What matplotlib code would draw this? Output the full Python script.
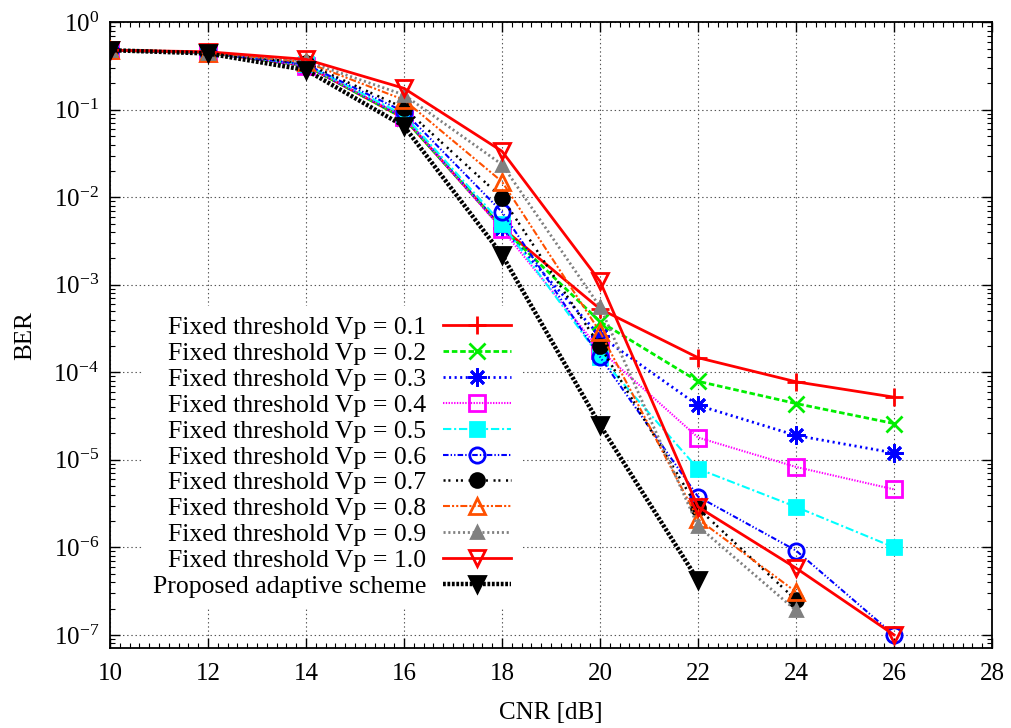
import numpy as np
import matplotlib
matplotlib.use('Agg')
import matplotlib.pyplot as plt

plt.rcParams['font.family'] = ['Liberation Serif', 'DejaVu Serif']
plt.rcParams['mathtext.fontset'] = 'custom'
plt.rcParams['mathtext.rm'] = 'Liberation Serif'
plt.rcParams['mathtext.it'] = 'Liberation Serif:italic'
plt.rcParams['lines.scale_dashes'] = False

# --- data (BER vs CNR) ---
cnr = [10, 12, 14, 16, 18, 20, 22, 24, 26]

ber_01 = [0.48, 0.45, 0.32, 0.080, 4.5e-3, 5.3e-4, 1.47e-4, 7.8e-5, 5.2e-5]
ber_02 = [0.48, 0.45, 0.32, 0.080, 4.5e-3, 3.8e-4, 7.9e-5, 4.4e-5, 2.6e-5]
ber_03 = [0.48, 0.45, 0.32, 0.082, 4.5e-3, 2.6e-4, 4.2e-5, 1.9e-5, 1.2e-5]
ber_04 = [0.48, 0.45, 0.32, 0.083, 4.3e-3, 1.8e-4, 1.8e-5, 8.3e-6, 4.6e-6]
ber_05 = [0.48, 0.45, 0.33, 0.087, 5.0e-3, 1.5e-4, 7.9e-6, 2.9e-6, 1.0e-6]
ber_06 = [0.48, 0.45, 0.33, 0.095, 6.8e-3, 1.5e-4, 3.8e-6, 9.2e-7, 1.0e-7]
ber_07 = [0.48, 0.45, 0.34, 0.105, 9.9e-3, 2.0e-4, 2.8e-6, 2.5e-7]
ber_08 = [0.48, 0.45, 0.35, 0.130, 1.51e-2, 2.9e-4, 2.1e-6, 3.1e-7]
ber_09 = [0.48, 0.45, 0.36, 0.148, 2.37e-2, 5.6e-4, 1.75e-6, 1.9e-7]
ber_10 = [0.48, 0.46, 0.377, 0.176, 3.36e-2, 1.1e-3, 2.9e-6, 5.8e-7, 1.0e-7]
ber_adaptive = [0.48, 0.44, 0.285, 0.065, 2.2e-3, 2.5e-5, 4.2e-7]

labels = ['Fixed threshold Vp = 0.1', 'Fixed threshold Vp = 0.2',
          'Fixed threshold Vp = 0.3', 'Fixed threshold Vp = 0.4',
          'Fixed threshold Vp = 0.5', 'Fixed threshold Vp = 0.6',
          'Fixed threshold Vp = 0.7', 'Fixed threshold Vp = 0.8',
          'Fixed threshold Vp = 0.9', 'Fixed threshold Vp = 1.0',
          'Proposed adaptive scheme']
series = [ber_01, ber_02, ber_03, ber_04, ber_05, ber_06, ber_07,
          ber_08, ber_09, ber_10, ber_adaptive]

# gnuplot-like styles: color, dash pattern, linewidth, marker, filled, size
styles = [
    ('#ff0000', '-', 2.0, '+', True, 13),
    ('#00ee00', (0, (4, 2)), 2.0, 'x', True, 11),
    ('#0000ff', (0, (1.5, 2.5)), 2.0, (8, 2, 0), True, 13),
    ('#ff00ff', (0, (1, 1)), 1.5, 's', False, 11),
    ('#00ffff', (0, (6, 2, 1.5, 2)), 1.5, 's', True, 10),
    ('#0000ff', (0, (4, 1.5, 1, 1.5, 1, 1.5)), 1.5, 'o', False, 11),
    ('#000000', (0, (1.5, 2, 1.5, 4)), 1.8, 'o', True, 10),
    ('#ff5000', (0, (5, 1.5, 1.5, 1.5, 1.5, 1.5)), 1.5, '^', False, 11),
    ('#808080', (0, (1.5, 2)), 2.0, '^', True, 9),
    ('#ff0000', '-', 2.0, 'v', False, 11),
    ('#000000', (0, (2, 1.2)), 3.2, 'v', True, 12),
]

fig = plt.figure(figsize=(10.11, 7.28), dpi=100)
ax = fig.add_axes([0.1088, 0.1099, 0.8724, 0.8595])

for vals, lab, (c, ls, lw, mk, filled, ms) in zip(series, labels, styles):
    xs = cnr[:len(vals)]
    ax.plot(xs, vals, color=c, linestyle=ls, linewidth=lw, marker=mk,
            markersize=ms, markerfacecolor=c if filled else 'none',
            markeredgecolor=c, markeredgewidth=2.0, label=lab, zorder=3)

ax.set_yscale('log')
ax.set_xlim(10, 28)
ax.set_ylim(10 ** -7.15, 1)
ax.set_xticks(np.arange(10, 29, 2))
ax.set_xticks(np.arange(10, 28.01, 0.2), minor=True)
ax.set_yticks([10.0 ** k for k in range(-7, 1)])
ax.set_yticklabels([r'$10^{%d}$' % k for k in range(-7, 1)])
ax.tick_params(which='both', direction='in', top=True, right=True, labelsize=18)
ax.tick_params(which='major', length=7, width=1)
ax.tick_params(which='minor', length=3.5, width=0.8)
ax.tick_params(axis='x', which='major', pad=11)
ax.tick_params(axis='y', which='major', pad=8)
ax.grid(True, which='major', color='#555555', linestyle=(0, (1, 2)), linewidth=0.8)
for sp in ax.spines.values():
    sp.set_linewidth(1.3)

ax.set_xlabel('CNR [dB]', fontsize=18, labelpad=12)
ax.set_ylabel('BER', fontsize=18, labelpad=12)

leg = ax.legend(loc='lower right', bbox_to_anchor=(0.5157, 0.165),
                bbox_transform=fig.transFigure, markerfirst=False,
                fontsize=18.5, frameon=True, fancybox=False, framealpha=1,
                edgecolor='none', borderpad=0.4, borderaxespad=0,
                labelspacing=0.11, handlelength=2.65, handletextpad=0.65)
leg.set_zorder(5)

fig.savefig('out.png', dpi=100)
